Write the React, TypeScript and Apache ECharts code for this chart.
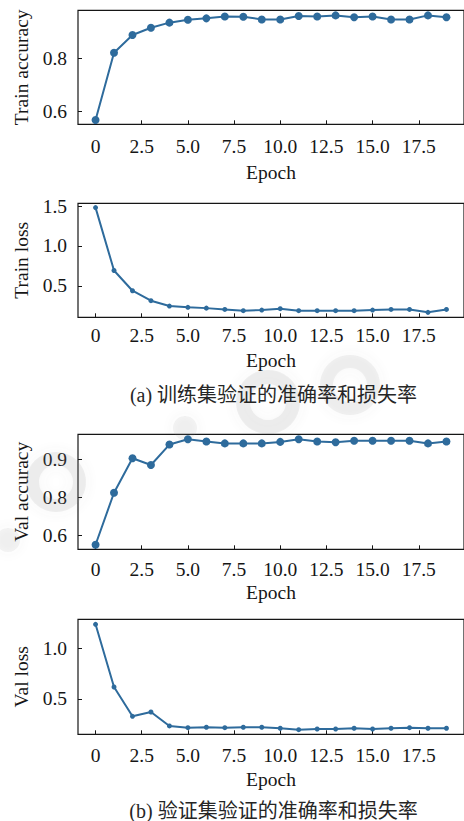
import React, { useEffect, useRef } from "react";
import * as echarts from "echarts";

const epochs = [0, 1, 2, 3, 4, 5, 6, 7, 8, 9, 10, 11, 12, 13, 14, 15, 16, 17, 18, 19];

const trainAcc = [0.569, 0.82, 0.886, 0.913, 0.932, 0.943, 0.948, 0.955, 0.954, 0.944, 0.944, 0.957, 0.955, 0.959, 0.952, 0.955, 0.944, 0.944, 0.959, 0.952];
const trainLoss = [1.48, 0.692, 0.438, 0.313, 0.246, 0.23, 0.22, 0.204, 0.188, 0.196, 0.213, 0.188, 0.188, 0.188, 0.188, 0.196, 0.204, 0.204, 0.167, 0.204];
const valAcc = [0.675, 0.812, 0.903, 0.885, 0.939, 0.953, 0.947, 0.942, 0.942, 0.942, 0.946, 0.953, 0.947, 0.945, 0.949, 0.949, 0.949, 0.949, 0.942, 0.947];
const valLoss = [1.242, 0.619, 0.328, 0.371, 0.232, 0.215, 0.219, 0.215, 0.219, 0.219, 0.209, 0.195, 0.202, 0.202, 0.209, 0.202, 0.209, 0.215, 0.209, 0.209];

const xTicks = [0, 2.5, 5, 7.5, 10, 12.5, 15, 17.5];
const xTickLabels = ["0", "2.5", "5.0", "7.5", "10.0", "12.5", "15.0", "17.5"];

const trainAccTicks = [0.6, 0.8];
const trainAccTickLabels = ["0.6", "0.8"];
const trainLossTicks = [0.5, 1.0, 1.5];
const trainLossTickLabels = ["0.5", "1.0", "1.5"];
const valAccTicks = [0.7, 0.8, 0.9];
const valAccTickLabels = ["0.6", "0.8", "0.9"];
const valLossTicks = [0.5, 1.0];
const valLossTickLabels = ["0.5", "1.0"];

const captionA = "(a) 训练集验证的准确率和损失率";
const captionB = "(b) 验证集验证的准确率和损失率";

const SERIF = '"Liberation Serif", "Times New Roman", serif';
const TEXT = "#161616";
const LINE = "#2e6b9c";

function labelFrom(ticks: number[], labels: string[]) {
  return (v: number) => {
    const i = ticks.findIndex((t) => Math.abs(t - v) < 1e-6);
    return i >= 0 ? labels[i] : "";
  };
}

export default function App() {
  const ref = useRef<HTMLDivElement>(null);
  useEffect(() => {
    if (!ref.current) return;
    const chart = echarts.init(ref.current, undefined, { renderer: "svg" });

    const panels = [
      { top: 10.3, height: 114, min: 0.553, max: 0.978, ticks: trainAccTicks, labels: trainAccTickLabels, name: "Train accuracy", data: trainAcc, sym: 8, xMargin: 12.4, xGap: 38.4 },
      { top: 203.3, height: 114, min: 0.105, max: 1.534, ticks: trainLossTicks, labels: trainLossTickLabels, name: "Train loss", data: trainLoss, sym: 5, xMargin: 8.5, xGap: 33.4 },
      { top: 434.3, height: 115, min: 0.663, max: 0.966, ticks: valAccTicks, labels: valAccTickLabels, name: "Val accuracy", data: valAcc, sym: 8, xMargin: 10, xGap: 33.4 },
      { top: 619.3, height: 115, min: 0.149, max: 1.292, ticks: valLossTicks, labels: valLossTickLabels, name: "Val loss", data: valLoss, sym: 5, xMargin: 10.7, xGap: 34.7 },
    ];

    const tickStyle = { show: true, inside: true, length: 4, lineStyle: { color: TEXT, width: 1 } };
    const fontBase = { fontFamily: SERIF, fontSize: 19.5, color: TEXT };
    const blur = { shadowBlur: 14, shadowColor: "rgba(110,110,110,0.45)" };

    const option: any = {
      animation: false,
      backgroundColor: "#ffffff",
      grid: panels.map((p) => ({
        left: 78,
        top: p.top,
        width: 390,
        height: p.height,
        show: true,
        borderColor: TEXT,
        borderWidth: 1.2,
        backgroundColor: "transparent",
      })),
      xAxis: panels.map((p, i) => ({
        type: "value",
        gridIndex: i,
        min: -0.95,
        max: 19.95,
        axisLine: { show: false, onZero: false },
        axisTick: { ...tickStyle, customValues: xTicks },
        axisLabel: { ...fontBase, margin: p.xMargin, customValues: xTicks, formatter: labelFrom(xTicks, xTickLabels) },
        splitLine: { show: false },
        name: "Epoch",
        nameLocation: "middle",
        nameGap: p.xGap,
        nameTextStyle: { ...fontBase },
      })),
      yAxis: panels.map((p, i) => ({
        type: "value",
        gridIndex: i,
        min: p.min,
        max: p.max,
        axisLine: { show: false, onZero: false },
        axisTick: { ...tickStyle, customValues: p.ticks },
        axisLabel: { ...fontBase, margin: 11, customValues: p.ticks, formatter: labelFrom(p.ticks, p.labels) },
        splitLine: { show: false },
        name: p.name,
        nameLocation: "middle",
        nameGap: 45,
        nameTextStyle: { ...fontBase },
      })),
      series: panels.map((p, i) => ({
        type: "line",
        xAxisIndex: i,
        yAxisIndex: i,
        data: epochs.map((e, k) => [e, p.data[k]]),
        symbol: "circle",
        symbolSize: p.sym,
        showSymbol: true,
        color: LINE,
        itemStyle: { color: LINE },
        lineStyle: { color: LINE, width: 2 },
        z: 3,
      })),
      graphic: [
        { type: "ring", z: 1, shape: { cx: 56, cy: 482, r: 30, r0: 17 }, style: { fill: "rgba(150,150,150,0.13)", ...blur } },
        { type: "ring", z: 1, shape: { cx: 268, cy: 402, r: 32, r0: 18 }, style: { fill: "rgba(150,150,150,0.13)", ...blur } },
        { type: "ring", z: 1, shape: { cx: 350, cy: 385, r: 30, r0: 17 }, style: { fill: "rgba(150,150,150,0.12)", ...blur } },
        { type: "circle", z: 1, shape: { cx: 185, cy: 428, r: 12 }, style: { fill: "rgba(150,150,150,0.1)", ...blur } },
        { type: "circle", z: 1, shape: { cx: 8, cy: 540, r: 12 }, style: { fill: "rgba(150,150,150,0.1)", ...blur } },
        {
          type: "text",
          z: 10,
          style: { text: captionA, x: 273.5, y: 395, align: "center", verticalAlign: "middle", font: '20px "Liberation Serif", "Noto Sans CJK SC", sans-serif', fill: "#262626" },
        },
        {
          type: "text",
          z: 10,
          style: { text: captionB, x: 273.5, y: 810.5, align: "center", verticalAlign: "middle", font: '20px "Liberation Serif", "Noto Sans CJK SC", sans-serif', fill: "#262626" },
        },
      ],
    };

    chart.setOption(option);
    return () => chart.dispose();
  }, []);

  return <div ref={ref} style={{ position: "fixed", left: 0, top: 0, width: 464, height: 821, background: "#fff" }} />;
}
